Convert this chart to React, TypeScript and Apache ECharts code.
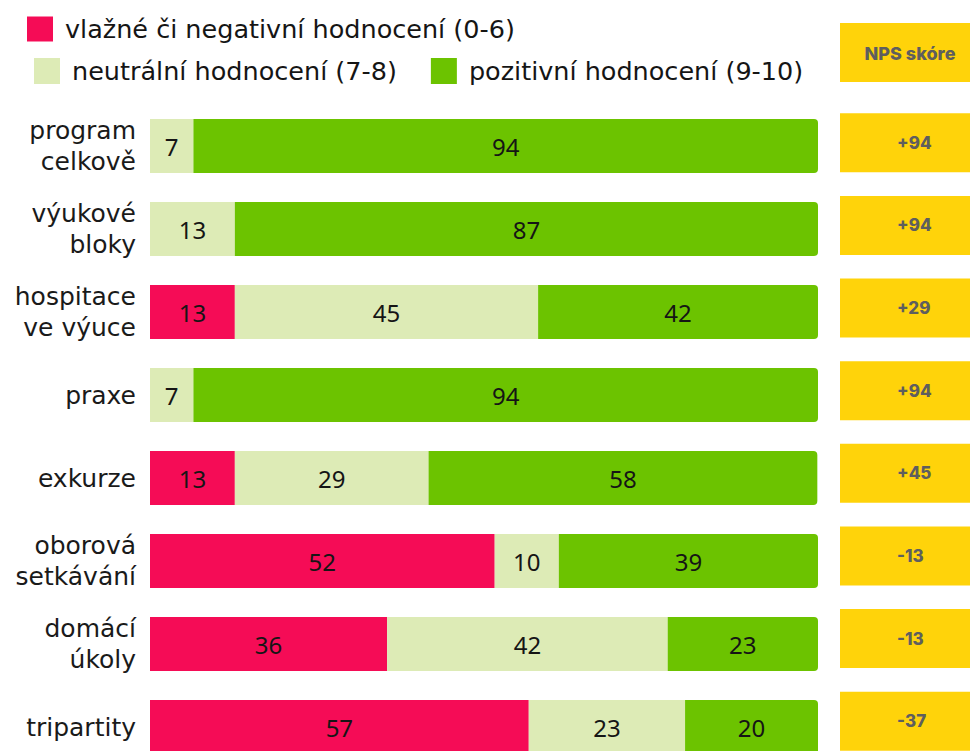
import React, { useEffect, useRef } from "react";
import * as echarts from "echarts";

const categories = [
  "program\ncelkově",
  "výukové\nbloky",
  "hospitace\nve výuce",
  "praxe",
  "exkurze",
  "oborová\nsetkávání",
  "domácí\núkoly",
  "tripartity",
];
const negative = [0, 0, 12.7, 0, 12.7, 51.6, 35.5, 56.7];
const neutral = [6.5, 12.7, 45.4, 6.5, 29.0, 9.6, 42.0, 23.4];
const positive = [93.5, 87.3, 41.9, 93.5, 58.2, 38.8, 22.5, 19.9];
const npsScores = ["+94", "+94", "+29", "+94", "+45", "-13", "-13", "-37"];
const seriesNames = [
  "vlažné či negativní hodnocení (0-6)",
  "neutrální hodnocení (7-8)",
  "pozitivní hodnocení (9-10)",
];
const npsTitle = "NPS skóre";

const RED = "#F50C56";
const LIGHT = "#DDEBB6";
const GREEN = "#6CC300";
const YELLOW = "#FFD30A";
const FONT = "DejaVu Sans";
const NUMFONT = "Noto Sans";
const NPSFONT = "Inter";

export default function App() {
  const ref = useRef<HTMLDivElement>(null);
  useEffect(() => {
    if (!ref.current) return;
    const chart = echarts.init(ref.current, null, { renderer: "svg" });
    const label = {
      show: true,
      position: "inside",
      color: "#151515",
      fontSize: 24,
      fontFamily: NUMFONT,
      formatter: (p: any) => (p.value > 0 ? String(Math.round(p.value)) : ""),
    };
    const mk = (name: string, data: number[], color: string, radius: any) => ({
      name,
      type: "bar",
      stack: "total",
      xAxisIndex: 0,
      yAxisIndex: 0,
      barWidth: 54,
      data,
      itemStyle: { color, borderRadius: radius },
      label,
      emphasis: { disabled: true },
    });
    const legendText = {
      fontSize: 25.5,
      fontFamily: FONT,
      color: "#151515",
      padding: [0, 0, 0, 7],
    };
    chart.setOption({
      animation: false,
      backgroundColor: "#ffffff",
      legend: [
        {
          data: [seriesNames[0]],
          left: 22,
          top: 11,
          itemWidth: 26,
          itemHeight: 25,
          icon: "rect",
          textStyle: legendText,
          selectedMode: false,
        },
        {
          data: [seriesNames[1], seriesNames[2]],
          left: 29,
          top: 53,
          itemWidth: 26,
          itemHeight: 26,
          itemGap: 34,
          icon: "rect",
          textStyle: legendText,
          selectedMode: false,
        },
      ],
      grid: [
        { left: 150, top: 104.5, width: 668, height: 664, containLabel: false },
        { left: 840, top: 101.5, width: 142, height: 661, containLabel: false },
      ],
      xAxis: [
        { type: "value", gridIndex: 0, min: 0, max: 100, show: false },
        { type: "value", gridIndex: 1, min: 0, max: 1, show: false },
      ],
      yAxis: [
        {
          type: "category",
          gridIndex: 0,
          data: categories,
          inverse: true,
          axisLine: { show: false },
          axisTick: { show: false },
          axisLabel: {
            margin: 14,
            fontSize: 25,
            lineHeight: 31,
            fontFamily: FONT,
            color: "#1a1a1a",
            align: "right",
          },
        },
        {
          type: "category",
          gridIndex: 1,
          data: categories,
          inverse: true,
          show: false,
        },
      ],
      series: [
        mk(seriesNames[0], negative, RED, 0),
        mk(seriesNames[1], neutral, LIGHT, 0),
        mk(seriesNames[2], positive, GREEN, [0, 4, 4, 0]),
        {
          name: "NPS",
          type: "bar",
          xAxisIndex: 1,
          yAxisIndex: 1,
          barWidth: 59,
          data: npsScores.map(() => 1),
          itemStyle: { color: YELLOW },
          emphasis: { disabled: true },
          label: {
            show: true,
            position: "insideLeft",
            offset: [52, 0],
            formatter: (p: any) => npsScores[p.dataIndex],
            color: "#5e5e5e",
            fontSize: 17,
            fontWeight: 800,
            fontFamily: NPSFONT,
          },
        },
      ],
      graphic: [
        {
          type: "rect",
          shape: { x: 840, y: 23, width: 142, height: 59 },
          style: { fill: YELLOW },
        },
        {
          type: "text",
          x: 910,
          y: 53,
          style: {
            text: npsTitle,
            fill: "#5e5e5e",
            fontSize: 18,
            fontWeight: 800,
            fontFamily: NPSFONT,
            align: "center",
            verticalAlign: "middle",
          },
        },
      ],
    });
    return () => chart.dispose();
  }, []);
  return (
    <div
      style={{
        width: 970,
        height: 751,
        position: "absolute",
        left: 0,
        top: 0,
        overflow: "hidden",
      }}
    >
      <div ref={ref} style={{ width: 970, height: 800 }} />
    </div>
  );
}
